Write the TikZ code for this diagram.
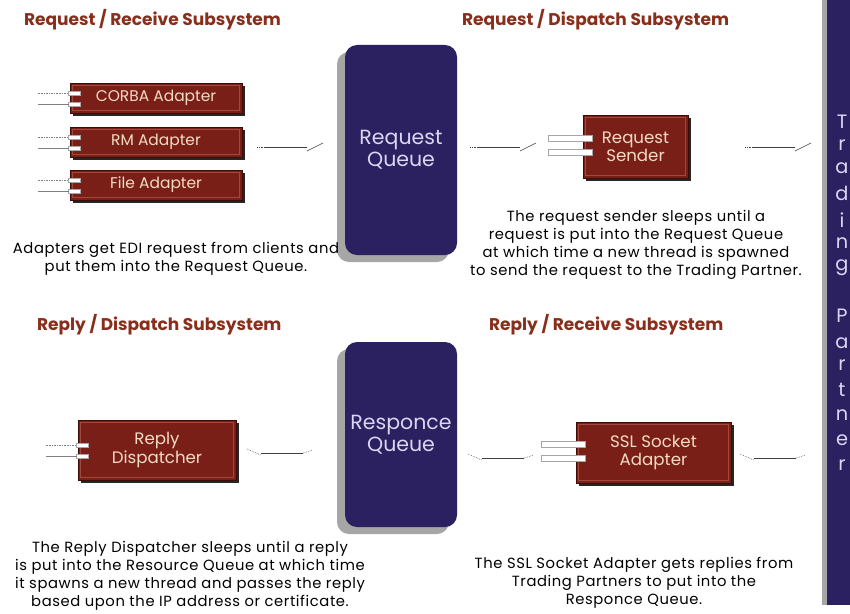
\documentclass[tikz,border=0pt]{standalone}
\usepackage{fontspec}
\setmainfont{Poppins}
\newfontfamily\widefont{Poppins}[LetterSpace=4]
\usetikzlibrary{calc,positioning}
\definecolor{boxred}{HTML}{7A1F17}
\definecolor{boxedge}{HTML}{3E0C08}
\definecolor{boxlight}{HTML}{A5473A}
\definecolor{queueblue}{HTML}{2B2160}
\definecolor{titlered}{HTML}{8A2E1C}
\definecolor{boxtext}{HTML}{F2DCC4}
\definecolor{queuetext}{HTML}{DCD6F2}

\begin{document}
\begin{tikzpicture}[x=0.03cm,y=-0.03cm,
	sectitle/.style={color=titlered,font=\fontsize{14.5}{16}\selectfont\bfseries,anchor=west},
	redbox/.style={rectangle,fill=boxred,draw=boxedge,line width=0.8pt,text=boxtext,align=center,inner sep=0pt,font=\fontsize{14.2}{15.5}\selectfont},
	queuebox/.style={rectangle,rounded corners=3.6mm,fill=queueblue,text=queuetext,align=center,font=\fontsize{17.5}{18.5}\selectfont,minimum width=3.36cm},
	plug/.style={fill=white,draw=gray!70,line width=0.4pt},
	wire/.style={color=black!75,line width=0.5pt},
	note/.style={align=center,font=\widefont\fontsize{12.6}{15.3}\selectfont}]
	\useasboundingbox (0,0) rectangle (850,613);
	%%titles
	\node [sectitle] (t1) at (20,20) {Request / Receive Subsystem};
	\node [sectitle] (t2) at (458,20) {Request / Dispatch Subsystem};
	\node [sectitle] (t3) at (33,325) {Reply / Dispatch Subsystem};
	\node [sectitle] (t4) at (485,325) {Reply / Receive Subsystem};
	%%queue shadows
	\fill [gray!70,rounded corners=3.6mm] (337,52) rectangle (449,262);
	\fill [gray!70,rounded corners=3.6mm] (337,349) rectangle (449,534);
	%%queues
	\node [queuebox,minimum height=6.3cm] (reqq) at (401,150) {Request\\Queue};
	\node [queuebox,minimum height=5.55cm] (resq) at (401,434.5) {Responce\\Queue};
	%%box shadows
	\foreach \xa/\ya/\xb/\yb in {70/83/242/113,70/127/242/157,70/170/242/200,583/115/688/178,78/420/236/480,576/422/731/483}
		\fill [black!85] (\xa+3,\ya+3) rectangle (\xb+3,\yb+3);
	%%boxes
	\node [redbox,minimum width=5.16cm,minimum height=0.9cm,font=\fontsize{13.2}{15}\selectfont] (corba) at (156,98) {CORBA Adapter};
	\node [redbox,minimum width=5.16cm,minimum height=0.9cm,font=\fontsize{13.2}{15}\selectfont] (rmi) at (156,142) {RM Adapter};
	\node [redbox,minimum width=5.16cm,minimum height=0.9cm,font=\fontsize{13.2}{15}\selectfont] (file) at (156,185) {File Adapter};
	\node [redbox,minimum width=3.15cm,minimum height=1.89cm] (sender) at (635.5,146.5) {Request\\Sender};
	\node [redbox,minimum width=4.74cm,minimum height=1.8cm] (dispatcher) at (157,450) {Reply\\Dispatcher};
	\node [redbox,minimum width=4.65cm,minimum height=1.83cm] (ssl) at (653.5,452.5) {SSL Socket\\Adapter};
	%%bevels
	\foreach \n in {corba,rmi,file,sender,dispatcher,ssl}
		\draw [boxlight,line width=0.6pt] ($(\n.north west)+(3,3)$) rectangle ($(\n.south east)+(-3,-3)$);
	%%plugs on the adapters
	\foreach \n in {corba,rmi,file,dispatcher}{
		\draw [plug] ($(\n.west)+(-1,-7)$) rectangle ($(\n.west)+(11,-3)$);
		\draw [plug] ($(\n.west)+(-1,4)$) rectangle ($(\n.west)+(11,8)$);
		\draw [gray,densely dotted,line width=0.4pt] ($(\n.west)+(-32,-5)$) -- ($(\n.west)+(-1,-5)$);
		\draw [gray,line width=0.4pt] ($(\n.west)+(-32,6)$) -- ($(\n.west)+(-1,6)$);
	}
	\foreach \n in {sender,ssl}{
		\draw [plug] ($(\n.west)+(-34,-11)$) rectangle ($(\n.west)+(10,-5)$);
		\draw [plug] ($(\n.west)+(-34,3)$) rectangle ($(\n.west)+(10,9)$);
	}
	%%request side wires
	\foreach \xa in {257,470,745}{
		\draw [wire,densely dotted] (\xa,147) -- ++(7,0);
		\draw [wire] (\xa+7,147) -- (\xa+50,147);
		\draw [wire] (\xa+50,151) -- (\xa+66,143);
	}
	%%reply side wires
	\foreach \xa/\ya in {247/453,468/458,740/458}{
		\draw [wire,densely dotted] (\xa,\ya-4) -- (\xa+14,\ya+2);
		\draw [wire] (\xa+14,\ya) -- (\xa+56,\ya);
		\draw [wire,densely dotted] (\xa+56,\ya) -- (\xa+66,\ya-3);
	}
	%%trading partner
	\fill [queueblue] (822,0) rectangle (850,605);
	\fill [gray!70] (822,0) rectangle (827,605);
	\foreach \ltr/\ya in {T/122,r/145,a/168,d/193,i/220,n/243,g/268,P/316,a/343,r/365,t/390,n/415,e/440,r/465}
		\node [text=queuetext,font=\fontsize{16.5}{18}\selectfont,inner sep=0pt] at (842,\ya) {\ltr};
	%%notes
	\node [note] (n1) at (176,259) {Adapters get EDI request from clients and\\put them into the Request Queue.};
	\node [note] (n2) at (636,245) {The request sender sleeps until a\\request is put into the Request Queue\\at which time a new thread is spawned\\to send the request to the Trading Partner.};
	\node [note] (n3) at (190,576) {The Reply Dispatcher sleeps until a reply\\is put into the Resource Queue at which time\\it spawns a new thread and passes the reply\\based upon the IP address or certificate.};
	\node [note] (n4) at (634,583) {The SSL Socket Adapter gets replies from\\Trading Partners to put into the\\Responce Queue.};
\end{tikzpicture}
\end{document}
